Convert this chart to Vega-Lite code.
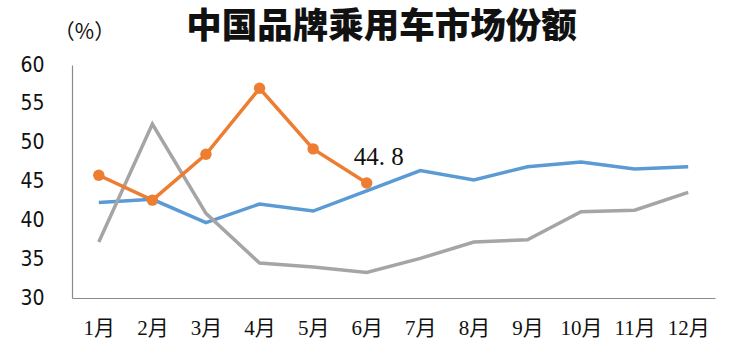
{
  "$schema": "https://vega.github.io/schema/vega-lite/v6.json",
  "width": 643,
  "height": 233,
  "autosize": {"type": "none"},
  "padding": {"left": 72, "top": 65, "right": 29, "bottom": 50},
  "background": "white",
  "title": {
    "text": "中国品牌乘用车市场份额",
    "font": "Noto Sans CJK SC",
    "fontSize": 35.5,
    "fontWeight": 900,
    "color": "#111111",
    "anchor": "middle",
    "dx": -12,
    "offset": -24
  },
  "config": {"view": {"stroke": null}},
  "data": {
    "values": [
      {"month": "1月", "series": "2019", "share": 42.3},
      {"month": "2月", "series": "2019", "share": 42.7},
      {"month": "3月", "series": "2019", "share": 39.7},
      {"month": "4月", "series": "2019", "share": 42.1},
      {"month": "5月", "series": "2019", "share": 41.2},
      {"month": "6月", "series": "2019", "share": 43.8},
      {"month": "7月", "series": "2019", "share": 46.4},
      {"month": "8月", "series": "2019", "share": 45.2},
      {"month": "9月", "series": "2019", "share": 46.9},
      {"month": "10月", "series": "2019", "share": 47.5},
      {"month": "11月", "series": "2019", "share": 46.6},
      {"month": "12月", "series": "2019", "share": 46.9},
      {"month": "1月", "series": "2020", "share": 37.2},
      {"month": "2月", "series": "2020", "share": 52.4},
      {"month": "3月", "series": "2020", "share": 40.9},
      {"month": "4月", "series": "2020", "share": 34.5},
      {"month": "5月", "series": "2020", "share": 34.0},
      {"month": "6月", "series": "2020", "share": 33.3},
      {"month": "7月", "series": "2020", "share": 35.1},
      {"month": "8月", "series": "2020", "share": 37.2},
      {"month": "9月", "series": "2020", "share": 37.5},
      {"month": "10月", "series": "2020", "share": 41.1},
      {"month": "11月", "series": "2020", "share": 41.3},
      {"month": "12月", "series": "2020", "share": 43.6},
      {"month": "1月", "series": "2021", "share": 45.8},
      {"month": "2月", "series": "2021", "share": 42.6},
      {"month": "3月", "series": "2021", "share": 48.5},
      {"month": "4月", "series": "2021", "share": 57.0},
      {"month": "5月", "series": "2021", "share": 49.2},
      {"month": "6月", "series": "2021", "share": 44.8, "label": "44. 8"}
    ]
  },
  "encoding": {
    "x": {
      "field": "month",
      "type": "ordinal",
      "sort": ["1月","2月","3月","4月","5月","6月","7月","8月","9月","10月","11月","12月"],
      "scale": {"type": "point", "padding": 0.5},
      "axis": {
        "title": null,
        "ticks": false,
        "grid": false,
        "domainColor": "#8a8a8a",
        "domainWidth": 1.2,
        "labelAngle": 0,
        "labelFont": "Liberation Serif, Noto Sans CJK SC",
        "labelFontSize": 21,
        "labelColor": "#111111",
        "labelPadding": 19
      }
    },
    "y": {
      "field": "share",
      "type": "quantitative",
      "scale": {"domain": [30, 60], "nice": false, "zero": false},
      "axis": {
        "values": [30, 35, 40, 45, 50, 55, 60],
        "ticks": false,
        "grid": false,
        "domainColor": "#8a8a8a",
        "domainWidth": 1.2,
        "labelFont": "Liberation Sans Narrow, DejaVu Sans Condensed, sans-serif",
        "labelFontSize": 21,
        "labelColor": "#111111",
        "labelPadding": 28,
        "title": "（%）",
        "titleAngle": 0,
        "titleX": 12,
        "titleY": -33,
        "titleAlign": "center",
        "titleBaseline": "middle",
        "titleFont": "Noto Sans CJK SC",
        "titleFontSize": 21,
        "titleFontWeight": "normal",
        "titleColor": "#111111"
      }
    }
  },
  "layer": [
    {
      "mark": {"type": "line", "strokeWidth": 3.5},
      "encoding": {
        "color": {
          "field": "series",
          "type": "nominal",
          "scale": {"domain": ["2019", "2020", "2021"], "range": ["#5B9BD5", "#A5A5A5", "#ED7D31"]},
          "legend": null
        }
      }
    },
    {
      "transform": [{"filter": "datum.series === '2021'"}],
      "mark": {"type": "point", "filled": true, "size": 130, "opacity": 1, "color": "#ED7D31"}
    },
    {
      "transform": [{"filter": "datum.label != null"}],
      "mark": {
        "type": "text",
        "align": "left",
        "baseline": "alphabetic",
        "dx": -13,
        "dy": -18,
        "font": "Liberation Serif, Noto Sans CJK SC",
        "fontSize": 25,
        "color": "#111111"
      },
      "encoding": {"text": {"field": "label"}}
    }
  ]
}
